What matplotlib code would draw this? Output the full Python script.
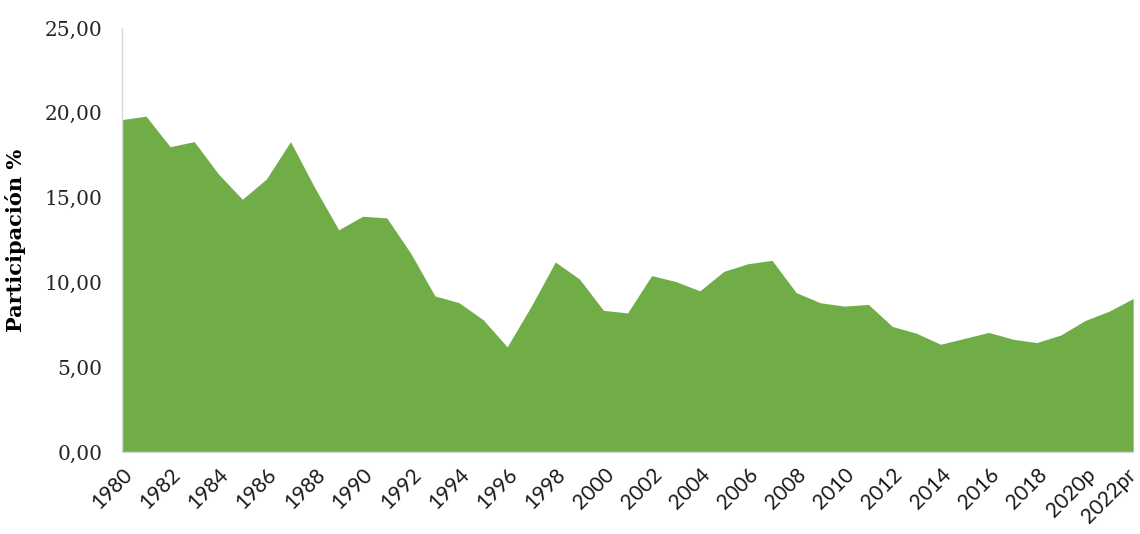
import matplotlib
matplotlib.use("Agg")
import matplotlib.pyplot as plt
import matplotlib.transforms as mtransforms
from matplotlib.ticker import FuncFormatter

years = [str(y) for y in range(1980, 2020)] + ["2020p", "2021p", "2022pr"]
values = [19.6, 19.8, 18.0, 18.3, 16.4, 14.9, 16.1, 18.3, 15.6, 13.1,
          13.9, 13.8, 11.7, 9.2, 8.8, 7.8, 6.2, 8.6, 11.2, 10.2,
          8.35, 8.2, 10.4, 10.05, 9.5, 10.65, 11.1, 11.3, 9.4, 8.8,
          8.6, 8.7, 7.4, 7.0, 6.35, 6.7, 7.05, 6.65, 6.45, 6.9,
          7.75, 8.3, 9.05]
y_ticks = [0, 5, 10, 15, 20, 25]
y_label = "Participación %"

fig = plt.figure(figsize=(11.4, 5.34), dpi=100)
ax = fig.add_axes([0.107, 0.1536, 0.887, 0.794])

x = list(range(len(years)))
ax.fill_between(x, values, 0, color="#70AD47", linewidth=0)

ax.set_xlim(0, len(years) - 1)
ax.set_ylim(0, 25)
ax.set_yticks(y_ticks)
ax.yaxis.set_major_formatter(FuncFormatter(lambda v, p: f"{v:.2f}".replace(".", ",")))
ax.set_xticks(x[::2])
ax.set_xticklabels(years[::2], rotation=45, ha="right", rotation_mode="anchor",
                   fontsize=15, family=["Lato", "DejaVu Sans"], color="#1a1a1a")
for lab in ax.get_yticklabels():
    lab.set_family("DejaVu Serif")
    lab.set_fontsize(14.5)
    lab.set_color("#262626")

ax.tick_params(axis="both", length=0)
ax.tick_params(axis="y", pad=14)
ax.tick_params(axis="x", pad=9)

# nudge the last label so it stays inside the figure
last = ax.get_xticklabels()[-1]
last.set_transform(last.get_transform() +
                   mtransforms.ScaledTranslation(-7 / 100, 0, fig.dpi_scale_trans))

for s in ["top", "right"]:
    ax.spines[s].set_visible(False)
ax.spines["left"].set_color("#d9d9d9")
ax.spines["bottom"].set_color("#d9d9d9")
ax.spines["left"].set_linewidth(1.0)
ax.spines["bottom"].set_linewidth(1.0)

ax.set_ylabel(y_label, fontsize=15, fontweight="bold", family="DejaVu Serif")
ax.yaxis.set_label_coords(-0.095, 0.5)

fig.savefig("out.png", dpi=100)
